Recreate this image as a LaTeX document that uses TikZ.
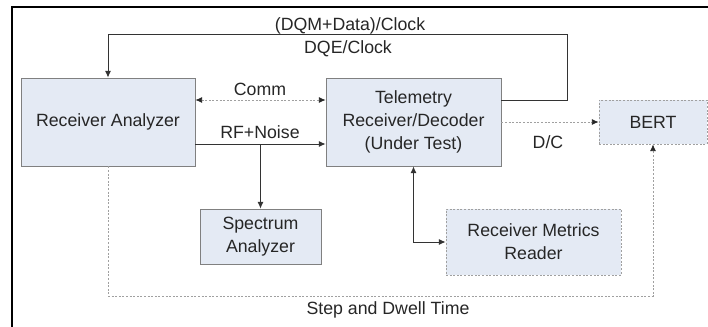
\documentclass[tikz,border=0pt]{standalone}
\usepackage{fontspec}
\setmainfont{Liberation Sans}
\usetikzlibrary{positioning, arrows.meta, calc}
\definecolor{boxfill}{HTML}{E4EAF4}
\definecolor{boxline}{HTML}{808080}
\definecolor{dashgray}{HTML}{A0A0A0}

\begin{document}
\begin{tikzpicture}[
      x=0.75pt, y=-0.75pt,
      >={Latex[length=5pt,width=4.5pt]},
      every node/.style={font=\fontsize{13.3}{17.3}\selectfont, text=black!85},
      block/.style={draw=boxline, line width=0.6pt, fill=boxfill, align=center, inner sep=0pt},
      dashblock/.style={block, draw=dashgray, dash pattern=on 1.5pt off 1.2pt},
      wire/.style={draw=black!80, line width=0.7pt},
      dwire/.style={draw=dashgray, line width=0.6pt, dash pattern=on 1.5pt off 1.2pt,
                    >={Latex[length=5pt,width=4.5pt,color=black!85]}},
    ]
    \useasboundingbox (0,0) rectangle (708,326);
    \draw[line width=1.5pt] (12,340) -- (12,7) -- (720,7);

    % blocks
    \node[block, minimum width=130.5pt, minimum height=66pt] (ra) at (108,122) {Receiver Analyzer};
    \node[block, minimum width=131.25pt, minimum height=66pt] (tel) at (413.5,122)
      {Telemetry\\Receiver/Decoder\\(Under Test)};
    \node[block, minimum width=90.75pt, minimum height=41.25pt] (spec) at (260.5,236.5)
      {Spectrum\\Analyzer};
    \node[dashblock, minimum width=131.25pt, minimum height=49.5pt] (rmr) at (533.5,242)
      {Receiver Metrics\\Reader};
    \node[dashblock, minimum width=81pt, minimum height=33pt] (bert) at (653,122) {BERT};

    % corner points
    \coordinate (loop) at (567,34);
    \coordinate (dwell) at (653,296);
    \coordinate (rfa) at ([yshift=-16.5pt]ra.east);

    % connectors
    \draw[wire, ->] ([yshift=16.5pt]tel.east) -| (loop) -| (ra.north);
    \draw[dwire, <->] ([yshift=16.5pt]ra.east) -- ([yshift=16.5pt]tel.west);
    \draw[wire, ->] (rfa) -- (rfa -| tel.west);
    \draw[wire, ->] (spec.north |- rfa) -- (spec.north);
    \draw[dwire, ->] (tel.east) -- (bert.west);
    \draw[wire, <->] (tel.south) |- (rmr.west);
    \draw[dwire, ->] (ra.south) |- (dwell) -- (bert.south);

    % labels
    \node (ldqm) at (350,26) {(DQM+Data)/Clock};
    \node (ldqe) at (348,49) {DQE/Clock};
    \node (lcomm) at (260,89) {Comm};
    \node (lrf) at (260,132) {RF+Noise};
    \node (ldc) at (548,142) {D/C};
    \node (lstep) at (388,310) {Step and Dwell Time};
  \end{tikzpicture}
\end{document}
